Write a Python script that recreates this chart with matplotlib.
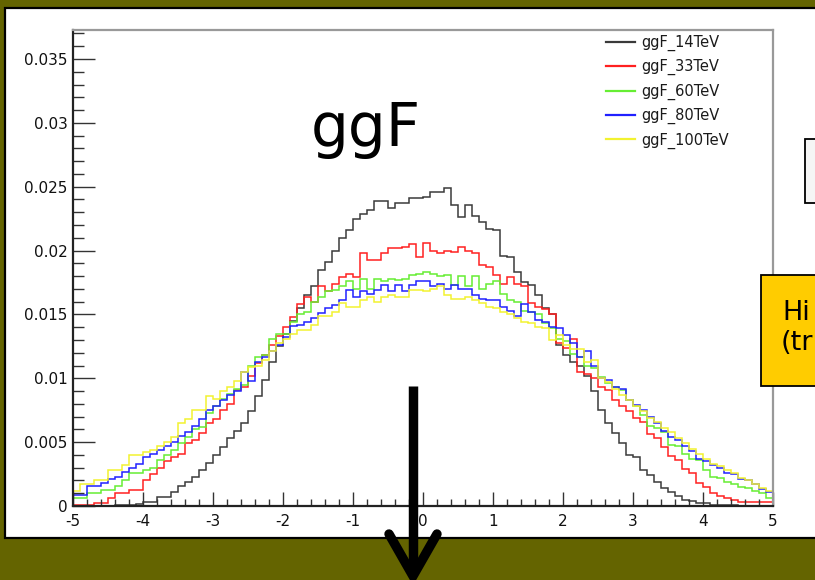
import numpy as np
import matplotlib
matplotlib.use('Agg')
import matplotlib.pyplot as plt
from matplotlib.patches import Rectangle
from matplotlib.lines import Line2D
from matplotlib.ticker import MultipleLocator, FuncFormatter

# ---------------- data (bin contents, in units of 1e-3) ----------------
x_range = (-5.0, 5.0)
n_bins = 100
value_scale = 1e-3

labels = ['ggF_14TeV', 'ggF_33TeV', 'ggF_60TeV', 'ggF_80TeV', 'ggF_100TeV']
colors = ['#3a3a3a', '#ff2020', '#66ee33', '#2020ff', '#f2f230']

ggF_14TeV = [0, 0, 0, 0, 0, 0.03, 0.05, 0.08, 0.1, 0.15,
             0.34, 0.34, 0.73, 0.73, 1.1, 1.6, 1.9, 2.3, 2.8, 3.4,
             4.0, 4.6, 5.3, 5.9, 6.5, 7.4, 8.6, 9.9, 11.3, 12.5,
             13.5, 14.5, 15.5, 16.5, 17.2, 18.5, 19.1, 20.0, 21.0, 21.6,
             22.5, 22.9, 23.2, 23.9, 23.9, 23.3, 23.7, 23.7, 24.1, 24.1,
             24.2, 24.6, 24.6, 24.9, 23.6, 22.6, 23.6, 22.7, 22.2, 21.7,
             21.6, 19.6, 19.5, 18.3, 17.5, 17.3, 16.5, 15.5, 15.0, 12.6,
             11.8, 11.3, 11.0, 10.2, 9.0, 7.5, 6.5, 5.7, 4.9, 4.0,
             3.8, 2.8, 2.4, 1.9, 1.4, 1.1, 0.8, 0.5, 0.4, 0.2,
             0.2, 0.1, 0.1, 0.1, 0.05, 0, 0, 0, 0, 0]

ggF_33TeV = [0.1, 0.1, 0.1, 0.2, 0.2, 0.6, 1.0, 1.0, 1.25, 1.25,
             2.0, 2.5, 3.0, 3.5, 3.8, 4.1, 4.9, 5.2, 5.7, 6.5,
             6.8, 7.5, 8.0, 9.1, 9.3, 10.2, 11.2, 11.8, 12.6, 13.3,
             14.0, 14.8, 15.8, 16.4, 16.0, 17.2, 16.8, 17.4, 17.9, 18.2,
             17.9, 19.8, 19.3, 19.3, 19.8, 20.2, 20.2, 20.3, 20.5, 19.5,
             20.6, 20.0, 19.8, 20.0, 19.9, 20.3, 20.0, 19.8, 18.9, 18.7,
             18.1, 17.4, 17.9, 17.4, 17.2, 15.9, 15.6, 15.4, 15.0, 12.8,
             12.4, 13.1, 10.5, 10.3, 10.0, 9.3, 9.1, 8.3, 7.8, 7.4,
             6.9, 6.6, 5.6, 5.3, 4.6, 3.9, 3.6, 2.9, 2.6, 1.8,
             1.5, 1.0, 0.8, 0.6, 0.5, 0.3, 0.3, 0.3, 0.3, 0.3]

ggF_60TeV = [0.6, 0.6, 1.0, 1.0, 1.25, 1.25, 1.6, 2.0, 2.6, 2.6,
             2.8, 3.0, 3.6, 4.0, 4.4, 4.9, 5.4, 6.0, 6.2, 7.3,
             7.8, 8.4, 8.8, 9.2, 9.5, 11.0, 11.7, 11.8, 13.1, 13.5,
             13.5, 14.4, 15.0, 15.2, 16.0, 16.4, 16.8, 16.9, 17.2, 17.6,
             17.0, 17.8, 17.0, 17.8, 17.6, 17.8, 17.7, 17.8, 18.1, 18.2,
             18.3, 18.2, 18.0, 18.1, 17.3, 18.0, 17.2, 18.0, 17.0, 17.4,
             17.6, 16.6, 16.1, 16.0, 15.3, 15.2, 15.0, 14.3, 13.9, 13.1,
             12.9, 11.9, 11.7, 11.0, 10.8, 10.1, 9.6, 9.3, 9.1, 8.3,
             7.8, 7.1, 6.3, 6.1, 5.8, 4.8, 4.7, 4.1, 3.7, 3.6,
             2.8, 2.3, 2.2, 1.9, 1.7, 1.5, 1.4, 1.2, 1.0, 0.6]

ggF_80TeV = [0.9, 0.9, 1.6, 1.6, 1.8, 2.1, 2.3, 2.7, 3.0, 3.3,
             3.8, 4.1, 4.4, 4.7, 5.0, 5.5, 5.8, 6.3, 6.8, 7.5,
             7.8, 8.3, 8.7, 9.0, 10.5, 9.8, 11.3, 11.7, 12.1, 12.6,
             13.2, 14.1, 14.2, 14.4, 14.7, 15.1, 15.5, 15.7, 16.1, 16.9,
             16.4, 16.8, 16.6, 16.9, 17.3, 16.8, 17.3, 16.8, 17.3, 17.6,
             17.6, 17.2, 17.4, 17.0, 17.3, 17.0, 17.0, 16.5, 16.2, 16.1,
             16.1, 15.6, 15.3, 14.9, 15.8, 15.2, 14.6, 14.4, 14.0, 13.9,
             13.4, 12.8, 11.7, 12.1, 11.0, 10.0, 9.9, 9.3, 9.2, 8.3,
             7.9, 7.5, 7.0, 6.5, 5.9, 5.4, 5.2, 4.7, 4.3, 3.7,
             3.5, 3.2, 3.0, 2.6, 2.5, 2.1, 2.0, 1.7, 1.3, 1.1]

ggF_100TeV = [1.2, 1.7, 1.7, 2.0, 2.0, 2.8, 2.8, 3.2, 4.0, 4.0,
              4.2, 4.4, 4.7, 5.0, 5.4, 6.5, 6.8, 7.5, 7.5, 8.6,
              8.4, 9.0, 9.3, 9.8, 10.5, 10.9, 11.0, 11.4, 12.1, 12.8,
              13.1, 13.5, 13.8, 13.8, 14.2, 14.9, 14.9, 15.2, 15.9, 15.6,
              15.6, 16.1, 16.4, 16.0, 16.4, 16.5, 16.4, 16.4, 16.9, 16.9,
              16.8, 17.0, 17.2, 16.5, 16.2, 16.2, 16.4, 16.1, 15.9, 15.6,
              15.5, 15.2, 15.0, 14.7, 14.4, 14.3, 14.0, 13.9, 13.0, 13.4,
              12.6, 12.3, 12.3, 11.3, 11.4, 10.0, 9.7, 9.2, 8.7, 8.3,
              7.8, 7.4, 6.9, 6.6, 6.1, 5.8, 5.3, 4.9, 4.5, 4.1,
              3.7, 3.3, 3.1, 2.8, 2.6, 2.2, 2.0, 1.7, 1.4, 1.2]

series = [ggF_14TeV, ggF_33TeV, ggF_60TeV, ggF_80TeV, ggF_100TeV]

x_ticks = [-5, -4, -3, -2, -1, 0, 1, 2, 3, 4, 5]
y_max = 0.03727

# ---------------- figure ----------------
W, H = 815, 580
fig = plt.figure(figsize=(W / 100, H / 100), dpi=100)
fig.patch.set_facecolor('#646400')

# white slide panel (under everything)
under = fig.add_axes([0, 0, 1, 1], zorder=-5)
under.set_xlim(0, W)
under.set_ylim(H, 0)
under.axis('off')
under.add_patch(Rectangle((5, 8), 900, 530, facecolor='white',
                          edgecolor='black', lw=1.6))

# main histogram axes
ax = fig.add_axes([73 / W, 74 / H, 700 / W, 476 / H], zorder=1)
ax.set_facecolor('white')
edges = np.linspace(x_range[0], x_range[1], n_bins + 1)
for vals, col in zip(series, colors):
    ax.stairs(np.asarray(vals) * value_scale, edges, baseline=None,
              color=col, lw=1.1)

ax.set_xlim(*x_range)
ax.set_ylim(0, y_max)
ax.xaxis.set_major_locator(MultipleLocator(1))
ax.xaxis.set_minor_locator(MultipleLocator(0.2))
ax.yaxis.set_major_locator(MultipleLocator(0.005))
ax.yaxis.set_minor_locator(MultipleLocator(0.001))
ax.set_xticks(x_ticks)
ax.yaxis.set_major_formatter(FuncFormatter(lambda v, p: '%g' % round(v, 4)))
ax.xaxis.set_major_formatter(FuncFormatter(lambda v, p: '%g' % v))

ax.tick_params(axis='both', which='both', direction='in', top=False,
               right=False, colors='#333333', labelcolor='#111111',
               width=1.0)
ax.tick_params(axis='y', which='major', length=16, pad=4, labelsize=11)
ax.tick_params(axis='y', which='minor', length=8)
ax.tick_params(axis='x', which='major', length=10, pad=6, labelsize=11)
ax.tick_params(axis='x', which='minor', length=5)
for lab in ax.get_xticklabels() + ax.get_yticklabels():
    lab.set_family('DejaVu Sans')

for s in ['left', 'bottom']:
    ax.spines[s].set_color('#222222')
    ax.spines[s].set_linewidth(1.6)
for s in ['top', 'right']:
    ax.spines[s].set_color('#999999')
    ax.spines[s].set_linewidth(1.6)

handles = [Line2D([], [], color=c, lw=1.6) for c in colors]
leg = ax.legend(handles, labels, loc='upper left',
                bbox_to_anchor=(603 / W, (H - 32) / H),
                bbox_transform=fig.transFigure, frameon=False,
                prop={'family': 'DejaVu Sans', 'size': 10.5},
                handlelength=2.0, handletextpad=0.45, labelspacing=0.56,
                borderpad=0.2, borderaxespad=0)
for t in leg.get_texts():
    t.set_color('#1a1a1a')

# overlay: slide annotations
over = fig.add_axes([0, 0, 1, 1], zorder=5)
over.set_xlim(0, W)
over.set_ylim(H, 0)
over.axis('off')
over.patch.set_alpha(0)

over.text(311, 146, 'ggF', fontsize=43, family='DejaVu Sans',
          color='black', ha='left', va='baseline')

# boxes at the right edge
over.add_patch(Rectangle((805, 139), 100, 64, facecolor='#f5f5f5',
                         edgecolor='black', lw=1.3))
over.add_patch(Rectangle((761, 275), 100, 111, facecolor='#ffcc00',
                         edgecolor='black', lw=1.3))
over.text(782, 320, 'Hi', fontsize=19.5, family='DejaVu Sans',
          color='black', ha='left', va='baseline')
over.text(781, 350, '(tr', fontsize=19.5, family='DejaVu Sans',
          color='black', ha='left', va='baseline')

# big black arrow
over.plot([413, 413], [386, 570], color='black', lw=6.8,
          solid_capstyle='butt')
over.plot([389, 413, 437], [534, 576, 534], color='black', lw=6.8,
          solid_capstyle='round', solid_joinstyle='miter')

fig.savefig('out.png', dpi=100, facecolor=fig.get_facecolor())
